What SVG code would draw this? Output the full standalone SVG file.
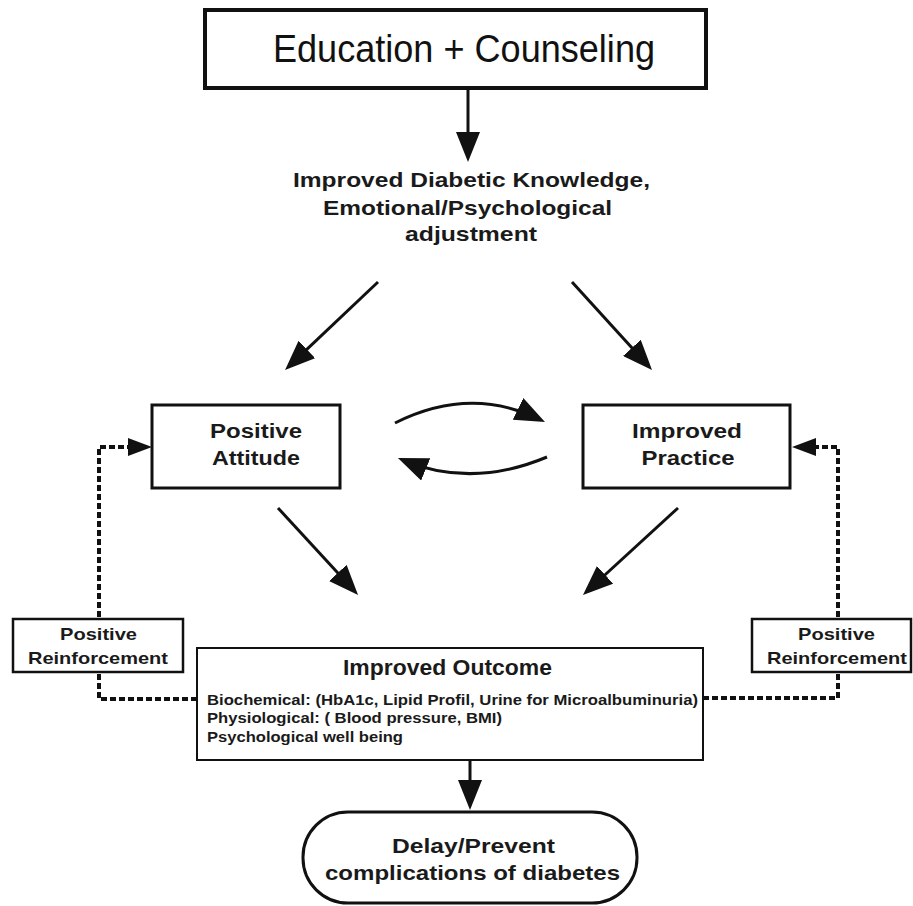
<svg xmlns="http://www.w3.org/2000/svg" width="913" height="906" viewBox="0 0 913 906">
<style>
  .t { font-family: "Liberation Sans", Arial, Helvetica, sans-serif; font-weight: bold; fill: #1a1a1a; }
  .c { text-anchor: middle; }
  .box { fill: #fff; stroke: #111; }
  .ln { fill: none; stroke: #111; stroke-width: 3; }
  .dash { fill: none; stroke: #111; stroke-width: 4; stroke-dasharray: 6 3; }
</style>
<defs>
  <marker id="ah" markerUnits="userSpaceOnUse" viewBox="0 0 30 24" refX="24" refY="12" markerWidth="30" markerHeight="24" orient="auto">
    <path d="M0,0 L30,12 L0,24 z" fill="#111"/>
  </marker>
  <marker id="ahs" markerUnits="userSpaceOnUse" viewBox="0 0 24 18" refX="19" refY="9" markerWidth="24" markerHeight="18" orient="auto">
    <path d="M0,0 L24,9 L0,18 z" fill="#111"/>
  </marker>
</defs>
<rect width="913" height="906" fill="#fff"/>

<g id="connectors">
  <line class="ln" x1="468" y1="88" x2="468" y2="156" marker-end="url(#ah)"/>
  <line class="ln" x1="378" y1="282" x2="289.4" y2="365.9" marker-end="url(#ah)"/>
  <line class="ln" x1="572" y1="282" x2="648" y2="365.6" marker-end="url(#ah)"/>
  <path class="ln" d="M395,423 Q470,385.5 539.6,419.4" marker-end="url(#ah)"/>
  <path class="ln" d="M547,457 Q472,488.5 403.5,460.3" marker-end="url(#ah)"/>
  <line class="ln" x1="278" y1="508" x2="354" y2="590.6" marker-end="url(#ah)"/>
  <line class="ln" x1="678" y1="508" x2="587.4" y2="591" marker-end="url(#ah)"/>
  <line class="ln" x1="470" y1="760" x2="470" y2="804" marker-end="url(#ah)"/>
  <path class="dash" d="M197,699 H99 V447 H147" marker-end="url(#ahs)"/>
  <path class="dash" d="M703,698 H838 V447 H797" marker-end="url(#ahs)"/>
</g>

<g id="education">
  <rect class="box" x="205" y="10" width="501" height="78" stroke-width="4"/>
  <text class="c" x="464" y="62" textLength="382" lengthAdjust="spacingAndGlyphs" style="font-family:'Liberation Sans', Arial, sans-serif; font-size:38px; fill:#111">Education + Counseling</text>
</g>

<g id="knowledge">
  <text class="t c" x="471.5" y="187" font-size="20.5" textLength="357" lengthAdjust="spacingAndGlyphs">Improved Diabetic Knowledge,</text>
  <text class="t c" x="467.5" y="215" font-size="20.5" textLength="289" lengthAdjust="spacingAndGlyphs">Emotional/Psychological</text>
  <text class="t c" x="471" y="241" font-size="20.5" textLength="132" lengthAdjust="spacingAndGlyphs">adjustment</text>
</g>

<g id="attitude">
  <rect class="box" x="152" y="405" width="188" height="83" stroke-width="3"/>
  <text class="t c" x="256" y="438" font-size="19.5" textLength="92" lengthAdjust="spacingAndGlyphs">Positive</text>
  <text class="t c" x="256" y="465" font-size="19.5" textLength="88" lengthAdjust="spacingAndGlyphs">Attitude</text>
</g>

<g id="practice">
  <rect class="box" x="583" y="405" width="207" height="83" stroke-width="3"/>
  <text class="t c" x="687" y="438" font-size="19.5" textLength="110" lengthAdjust="spacingAndGlyphs">Improved</text>
  <text class="t c" x="688" y="465" font-size="19.5" textLength="93" lengthAdjust="spacingAndGlyphs">Practice</text>
</g>

<g id="reinforcement-left">
  <rect class="box" x="13" y="619" width="170" height="53" stroke-width="2.5"/>
  <text class="t c" x="98.5" y="640" font-size="17" textLength="77" lengthAdjust="spacingAndGlyphs">Positive</text>
  <text class="t c" x="98" y="664" font-size="17" textLength="140" lengthAdjust="spacingAndGlyphs">Reinforcement</text>
</g>

<g id="reinforcement-right">
  <rect class="box" x="752" y="619" width="159" height="53" stroke-width="2.5"/>
  <text class="t c" x="836.5" y="640" font-size="17" textLength="77" lengthAdjust="spacingAndGlyphs">Positive</text>
  <text class="t c" x="837" y="664" font-size="17" textLength="140" lengthAdjust="spacingAndGlyphs">Reinforcement</text>
</g>

<g id="outcome">
  <rect class="box" x="197" y="648" width="506" height="112" stroke-width="2"/>
  <text class="t c" x="447.5" y="675" font-size="22" textLength="209" lengthAdjust="spacingAndGlyphs">Improved Outcome</text>
  <text class="t" x="207" y="705" font-size="14.5" textLength="491" lengthAdjust="spacingAndGlyphs">Biochemical: (HbA1c, Lipid Profil, Urine for Microalbuminuria)</text>
  <text class="t" x="207" y="723" font-size="14.5" textLength="295" lengthAdjust="spacingAndGlyphs">Physiological: ( Blood pressure, BMI)</text>
  <text class="t" x="207" y="742" font-size="14.5" textLength="196" lengthAdjust="spacingAndGlyphs">Psychological well being</text>
</g>

<g id="delay">
  <rect class="box" x="303" y="812" width="334" height="91" rx="45" ry="45" stroke-width="3"/>
  <text class="t c" x="473.5" y="853" font-size="21" textLength="163" lengthAdjust="spacingAndGlyphs">Delay/Prevent</text>
  <text class="t c" x="472.5" y="880" font-size="21" textLength="295" lengthAdjust="spacingAndGlyphs">complications of diabetes</text>
</g>
</svg>
